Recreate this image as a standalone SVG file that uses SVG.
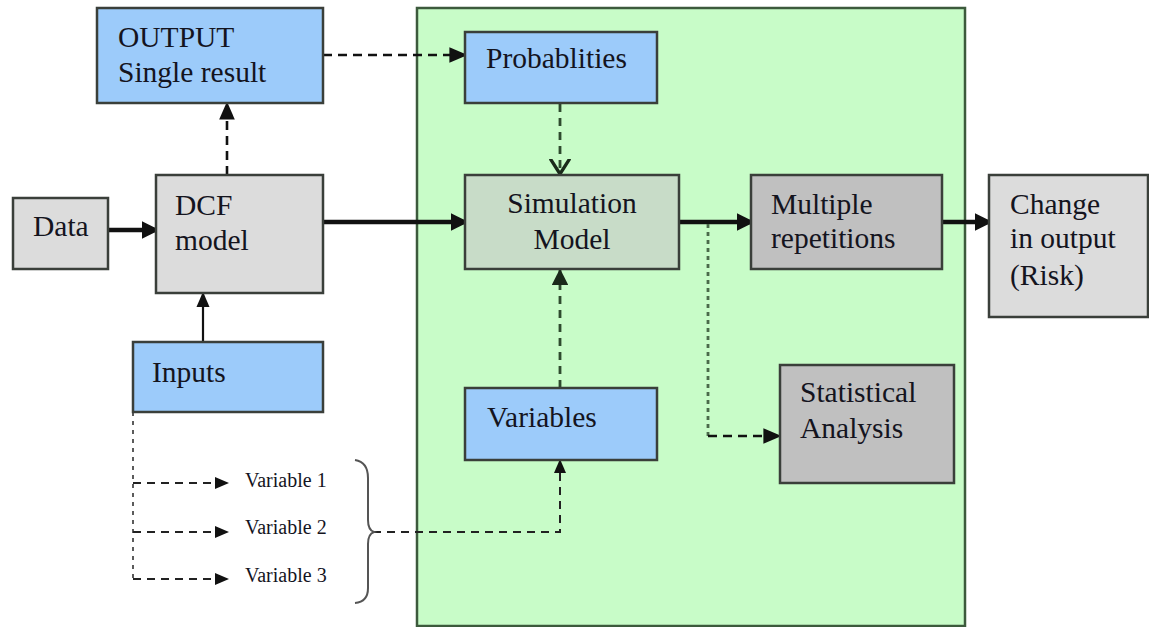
<svg xmlns="http://www.w3.org/2000/svg" width="1149" height="627" viewBox="0 0 1149 627">
  <style>
    .box { stroke: #3a3f3a; stroke-width: 2.5; }
    .blue { fill: #9ccbfa; }
    .lgray { fill: #dcdcdc; }
    .sim { fill: #c8dcc8; }
    .dgray { fill: #c0c0c0; }
    .t { font-family: "Liberation Serif", "Times New Roman", serif; font-size: 29.5px; fill: #14141e; }
    .ts { font-family: "Liberation Serif", "Times New Roman", serif; font-size: 20px; fill: #14141e; }
    .thick { stroke: #111; stroke-width: 4.5; fill: none; }
    .thin { stroke: #111; stroke-width: 2.2; fill: none; }
    .dash { stroke: #111; stroke-width: 2.6; stroke-dasharray: 9 6; fill: none; }
    .dashg { stroke: #2e4a2e; stroke-width: 2.8; stroke-dasharray: 8 6; fill: none; }
    .dot { stroke: #4a6a4a; stroke-width: 2.8; stroke-dasharray: 4 4; fill: none; }
    .dashs { stroke: #222; stroke-width: 2; stroke-dasharray: 8 6; fill: none; }
    .dashv { stroke: #333; stroke-width: 1.6; stroke-dasharray: 4 5; fill: none; }
  </style>
  <defs>
    <marker id="ah" markerWidth="4" markerHeight="4" refX="3.2" refY="2" orient="auto" markerUnits="strokeWidth" viewBox="0 0 4 4">
      <path d="M0,0 L4,2 L0,4 z" fill="#111"/>
    </marker>
    <marker id="ahs" markerWidth="7" markerHeight="6" refX="6" refY="3" orient="auto" markerUnits="strokeWidth" viewBox="0 0 7 6">
      <path d="M0,0 L7,3 L0,6 z" fill="#111"/>
    </marker>
    <marker id="ahg" markerWidth="6" markerHeight="6" refX="5.5" refY="3" orient="auto" markerUnits="strokeWidth" viewBox="0 0 6 6">
      <path d="M0,0 L6,3 L0,6 z" fill="#1a2a1a"/>
    </marker>
    <marker id="ahv" markerWidth="6" markerHeight="8" refX="5.5" refY="4" orient="auto" markerUnits="strokeWidth" viewBox="0 0 6 8">
      <path d="M0,0.5 L5.5,4 L0,7.5" fill="none" stroke="#1a2a1a" stroke-width="1.2"/>
    </marker>
  </defs>

  <rect width="1149" height="627" fill="#ffffff"/>

  <g id="panel">
    <rect x="417" y="8" width="548" height="618" fill="#c8fcc8" stroke="#3c5a3c" stroke-width="2.5"/>
  </g>

  <g id="connectors">
    <line class="thick" x1="108" y1="230" x2="156" y2="230" marker-end="url(#ah)"/>
    <line class="thick" x1="323" y1="222" x2="465" y2="222" marker-end="url(#ah)"/>
    <line class="thick" x1="679" y1="222" x2="751" y2="222" marker-end="url(#ah)"/>
    <line class="thick" x1="942" y1="222" x2="989" y2="222" marker-end="url(#ah)"/>
    <line class="dash" x1="227" y1="175" x2="227" y2="104" marker-end="url(#ahs)"/>
    <line class="dash" x1="323" y1="55" x2="465" y2="55" marker-end="url(#ahs)"/>
    <line class="dashg" x1="560" y1="104" x2="560" y2="174" marker-end="url(#ahv)"/>
    <line class="dashg" x1="560" y1="388" x2="560" y2="270" marker-end="url(#ahg)"/>
    <line class="thin" x1="203" y1="342" x2="203" y2="294" marker-end="url(#ahs)"/>
    <polyline class="dot" points="708,224 708,436"/>
    <line class="dash" x1="708" y1="436" x2="779" y2="436" marker-end="url(#ahs)"/>
    <polyline class="dashv" points="133,412 133,579"/>
    <line class="dashs" x1="133" y1="483" x2="227" y2="483" marker-end="url(#ahs)"/>
    <line class="dashs" x1="133" y1="532" x2="227" y2="532" marker-end="url(#ahs)"/>
    <line class="dashs" x1="133" y1="579" x2="227" y2="579" marker-end="url(#ahs)"/>
    <polyline class="dashs" points="373,532 560,532 560,461" marker-end="url(#ahs)"/>
    <path d="M355,460 Q368,462 368,478 L368,520 Q368,530 374,532 Q368,534 368,544 L368,588 Q368,602 355,603" fill="none" stroke="#555" stroke-width="2"/>
  </g>

  <g id="output">
    <rect class="box blue" x="97" y="8" width="226" height="95"/>
    <text class="t" x="118" y="47">OUTPUT</text>
    <text class="t" x="118" y="82">Single result</text>
  </g>
  <g id="data">
    <rect class="box lgray" x="13" y="198" width="95" height="71"/>
    <text class="t" x="33" y="236">Data</text>
  </g>
  <g id="dcf">
    <rect class="box lgray" x="156" y="175" width="167" height="118"/>
    <text class="t" x="175" y="215">DCF</text>
    <text class="t" x="175" y="250">model</text>
  </g>
  <g id="inputs">
    <rect class="box blue" x="133" y="342" width="190" height="70"/>
    <text class="t" x="152" y="382">Inputs</text>
  </g>
  <g id="probabilities">
    <rect class="box blue" x="465" y="32" width="192" height="71"/>
    <text class="t" x="486" y="68">Probablities</text>
  </g>
  <g id="simulation">
    <rect class="box sim" x="465" y="175" width="214" height="94"/>
    <text class="t" x="572" y="213" text-anchor="middle">Simulation</text>
    <text class="t" x="572" y="249" text-anchor="middle">Model</text>
  </g>
  <g id="multiple">
    <rect class="box dgray" x="751" y="175" width="191" height="94"/>
    <text class="t" x="771" y="214">Multiple</text>
    <text class="t" x="771" y="248">repetitions</text>
  </g>
  <g id="change">
    <rect class="box lgray" x="989" y="175" width="159" height="142"/>
    <text class="t" x="1010" y="214">Change</text>
    <text class="t" x="1010" y="248">in output</text>
    <text class="t" x="1010" y="285">(Risk)</text>
  </g>
  <g id="statistical">
    <rect class="box dgray" x="780" y="365" width="174" height="118"/>
    <text class="t" x="800" y="402">Statistical</text>
    <text class="t" x="800" y="438">Analysis</text>
  </g>
  <g id="variables">
    <rect class="box blue" x="465" y="388" width="192" height="72"/>
    <text class="t" x="487" y="427">Variables</text>
  </g>
  <g id="var-list">
    <text class="ts" x="245" y="487">Variable 1</text>
    <text class="ts" x="245" y="534">Variable 2</text>
    <text class="ts" x="245" y="582">Variable 3</text>
  </g>
</svg>
